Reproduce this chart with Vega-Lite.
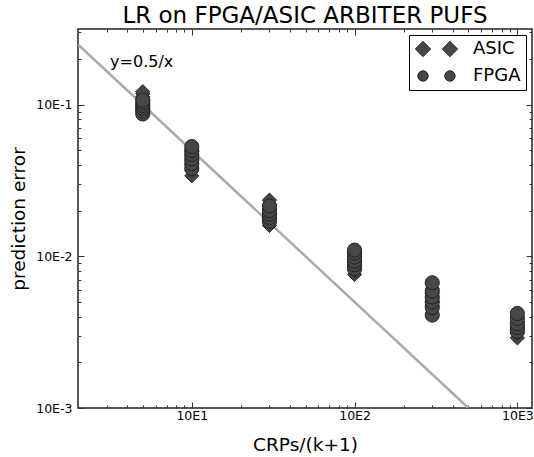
{
  "$schema": "https://vega.github.io/schema/vega-lite/v6.json",
  "width": 454,
  "height": 379,
  "autosize": {"type": "none"},
  "padding": {"left": 78, "top": 29, "right": 2, "bottom": 49},
  "background": "white",
  "title": {
    "text": "LR on FPGA/ASIC ARBITER PUFS",
    "font": "DejaVu Sans",
    "fontSize": 23,
    "fontWeight": "normal",
    "color": "#000",
    "anchor": "middle",
    "frame": "group",
    "baseline": "alphabetic",
    "offset": 4,
    "dy": 21
  },
  "config": {
    "font": "DejaVu Sans",
    "view": {"stroke": "#222", "strokeWidth": 1.5},
    "axis": {"grid": false, "domain": false, "minExtent": 0, "tickColor": "#333", "labelColor": "#000", "titleColor": "#000", "labelFont": "DejaVu Sans", "titleFont": "DejaVu Sans", "titleFontWeight": "normal"}
  },
  "datasets": {
    "pts": [
      {"x": 5, "err": 0.093, "type": "ASIC"}, {"x": 5, "err": 0.098, "type": "ASIC"}, {"x": 5, "err": 0.103, "type": "ASIC"}, {"x": 5, "err": 0.108, "type": "ASIC"}, {"x": 5, "err": 0.113, "type": "ASIC"}, {"x": 5, "err": 0.118, "type": "ASIC"}, {"x": 5, "err": 0.122, "type": "ASIC"},
      {"x": 10, "err": 0.034, "type": "ASIC"}, {"x": 10, "err": 0.037, "type": "ASIC"}, {"x": 10, "err": 0.040, "type": "ASIC"}, {"x": 10, "err": 0.043, "type": "ASIC"}, {"x": 10, "err": 0.046, "type": "ASIC"}, {"x": 10, "err": 0.049, "type": "ASIC"},
      {"x": 30, "err": 0.016, "type": "ASIC"}, {"x": 30, "err": 0.0175, "type": "ASIC"}, {"x": 30, "err": 0.019, "type": "ASIC"}, {"x": 30, "err": 0.0205, "type": "ASIC"}, {"x": 30, "err": 0.022, "type": "ASIC"}, {"x": 30, "err": 0.0235, "type": "ASIC"},
      {"x": 100, "err": 0.0076, "type": "ASIC"}, {"x": 100, "err": 0.0081, "type": "ASIC"}, {"x": 100, "err": 0.0086, "type": "ASIC"}, {"x": 100, "err": 0.0091, "type": "ASIC"}, {"x": 100, "err": 0.0096, "type": "ASIC"},
      {"x": 300, "err": 0.0047, "type": "ASIC"}, {"x": 300, "err": 0.0050, "type": "ASIC"}, {"x": 300, "err": 0.0053, "type": "ASIC"}, {"x": 300, "err": 0.0057, "type": "ASIC"}, {"x": 300, "err": 0.0061, "type": "ASIC"},
      {"x": 1000, "err": 0.0029, "type": "ASIC"}, {"x": 1000, "err": 0.0031, "type": "ASIC"}, {"x": 1000, "err": 0.0033, "type": "ASIC"}, {"x": 1000, "err": 0.0035, "type": "ASIC"}, {"x": 1000, "err": 0.0037, "type": "ASIC"},
      {"x": 5, "err": 0.087, "type": "FPGA"}, {"x": 5, "err": 0.091, "type": "FPGA"}, {"x": 5, "err": 0.095, "type": "FPGA"}, {"x": 5, "err": 0.099, "type": "FPGA"}, {"x": 5, "err": 0.103, "type": "FPGA"}, {"x": 5, "err": 0.107, "type": "FPGA"},
      {"x": 10, "err": 0.038, "type": "FPGA"}, {"x": 10, "err": 0.041, "type": "FPGA"}, {"x": 10, "err": 0.044, "type": "FPGA"}, {"x": 10, "err": 0.047, "type": "FPGA"}, {"x": 10, "err": 0.050, "type": "FPGA"}, {"x": 10, "err": 0.053, "type": "FPGA"},
      {"x": 30, "err": 0.017, "type": "FPGA"}, {"x": 30, "err": 0.018, "type": "FPGA"}, {"x": 30, "err": 0.019, "type": "FPGA"}, {"x": 30, "err": 0.020, "type": "FPGA"}, {"x": 30, "err": 0.0215, "type": "FPGA"},
      {"x": 100, "err": 0.0083, "type": "FPGA"}, {"x": 100, "err": 0.0088, "type": "FPGA"}, {"x": 100, "err": 0.0093, "type": "FPGA"}, {"x": 100, "err": 0.0099, "type": "FPGA"}, {"x": 100, "err": 0.0105, "type": "FPGA"}, {"x": 100, "err": 0.011, "type": "FPGA"},
      {"x": 300, "err": 0.0041, "type": "FPGA"}, {"x": 300, "err": 0.0046, "type": "FPGA"}, {"x": 300, "err": 0.0050, "type": "FPGA"}, {"x": 300, "err": 0.0054, "type": "FPGA"}, {"x": 300, "err": 0.0059, "type": "FPGA"}, {"x": 300, "err": 0.0067, "type": "FPGA"},
      {"x": 1000, "err": 0.0032, "type": "FPGA"}, {"x": 1000, "err": 0.0034, "type": "FPGA"}, {"x": 1000, "err": 0.0036, "type": "FPGA"}, {"x": 1000, "err": 0.0039, "type": "FPGA"}, {"x": 1000, "err": 0.0042, "type": "FPGA"}
    ],
    "fit": [
      {"x": 2, "err": 0.25},
      {"x": 500, "err": 0.001}
    ],
    "note": [
      {"x": 3.15, "err": 0.19, "label": "y=0.5/x"}
    ]
  },
  "resolve": {"axis": {"x": "independent", "y": "independent"}},
  "layer": [
    {
      "data": {"name": "fit"},
      "mark": {"type": "line", "color": "#aaaaaa", "strokeWidth": 2.5, "clip": true},
      "encoding": {
        "x": {"field": "x", "type": "quantitative",
          "scale": {"type": "log", "domain": [2, 1230], "nice": false, "zero": false},
          "axis": {"orient": "bottom", "values": [10, 100, 1000], "labelExpr": "'10E' + round(log(datum.value)/LN10)", "tickSize": -6, "labelPadding": 7, "labelFontSize": 12.5, "title": "CRPs/(k+1)", "titleFontSize": 18.5, "titlePadding": 14}},
        "y": {"field": "err", "type": "quantitative",
          "scale": {"type": "log", "domain": [0.001, 0.316], "nice": false, "zero": false},
          "axis": {"orient": "left", "values": [0.001, 0.01, 0.1], "labelExpr": "'10E' + round(log(datum.value)/LN10)", "tickSize": -6, "labelPadding": 12, "labelFontSize": 12.5, "title": "prediction error", "titleFontSize": 18.5, "titlePadding": 7}}
      }
    },
    {
      "data": {"name": "pts"},
      "mark": {"type": "point", "filled": true, "size": 200, "opacity": 1, "fill": "#474747", "stroke": "#222", "strokeWidth": 1},
      "encoding": {
        "x": {"field": "x", "type": "quantitative",
          "axis": {"orient": "bottom", "values": [3, 4, 5, 6, 7, 8, 9, 20, 30, 40, 50, 60, 70, 80, 90, 200, 300, 400, 500, 600, 700, 800, 900], "labels": false, "tickSize": -3, "title": null}},
        "y": {"field": "err", "type": "quantitative",
          "axis": {"orient": "left", "values": [0.002, 0.003, 0.004, 0.005, 0.006, 0.007, 0.008, 0.009, 0.02, 0.03, 0.04, 0.05, 0.06, 0.07, 0.08, 0.09, 0.2, 0.3], "labels": false, "tickSize": -3, "title": null}},
        "shape": {"field": "type", "type": "nominal",
          "scale": {"range": ["diamond", "circle"]},
          "legend": null},
        "color": {"field": "type", "type": "nominal",
          "scale": {"domain": ["ASIC", "FPGA"], "range": ["#474747", "#474747"]},
          "legend": {
            "title": null,
            "orient": "top-right",
            "offset": 6,
            "strokeColor": "#000",
            "fillColor": "white",
            "padding": 5,
            "rowPadding": 8,
            "labelFontSize": 18,
            "labelFont": "DejaVu Sans",
            "labelColor": "#000",
            "labelOffset": 41,
            "labelExpr": "datum.label + ' '",
            "symbolSize": 150,
            "symbolStrokeColor": "#222",
            "symbolStrokeWidth": 1,
            "symbolOpacity": 1,
            "encode": {
              "symbols": {
                "update": {
                  "shape": {"signal": "datum.value === 'ASIC' ? 'M-1.25,0L0,-1.25L1.25,0L0,1.25ZM3.15,0L4.4,-1.25L5.65,0L4.4,1.25Z' : 'M-0.85,0A0.85,0.85,0,1,0,0.85,0A0.85,0.85,0,1,0,-0.85,0ZM3.55,0A0.85,0.85,0,1,0,5.25,0A0.85,0.85,0,1,0,3.55,0Z'"}
                }
              }
            }
          }}
      }
    },
    {
      "data": {"name": "note"},
      "mark": {"type": "text", "align": "left", "baseline": "middle", "fontSize": 16, "font": "DejaVu Sans", "color": "#000"},
      "encoding": {
        "x": {"field": "x", "type": "quantitative",
          "axis": {"orient": "top", "values": [10, 100, 1000], "labels": false, "tickSize": -6, "title": null}},
        "y": {"field": "err", "type": "quantitative",
          "axis": {"orient": "right", "values": [0.001, 0.01, 0.1], "labels": false, "tickSize": -6, "title": null}},
        "text": {"field": "label"}
      }
    },
    {
      "data": {"name": "fit"},
      "mark": {"type": "point", "opacity": 0},
      "encoding": {
        "x": {"field": "x", "type": "quantitative",
          "axis": {"orient": "top", "values": [3, 4, 5, 6, 7, 8, 9, 20, 30, 40, 50, 60, 70, 80, 90, 200, 300, 400, 500, 600, 700, 800, 900], "labels": false, "tickSize": -3, "title": null}},
        "y": {"field": "err", "type": "quantitative",
          "axis": {"orient": "right", "values": [0.002, 0.003, 0.004, 0.005, 0.006, 0.007, 0.008, 0.009, 0.02, 0.03, 0.04, 0.05, 0.06, 0.07, 0.08, 0.09, 0.2, 0.3], "labels": false, "tickSize": -3, "title": null}}
      }
    }
  ]
}
